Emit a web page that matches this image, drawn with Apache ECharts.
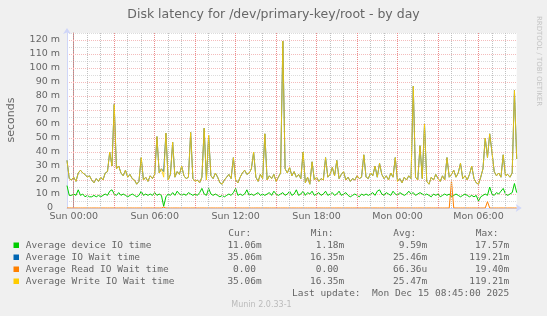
<!DOCTYPE html>
<html><head><meta charset="utf-8">
<script src="https://cdn.jsdelivr.net/npm/echarts@6/dist/echarts.min.js"></script>
<style>html,body{margin:0;padding:0;background:#F0F0F0;}#c{width:547px;height:316px;}</style>
</head><body><div id="c"></div>
<script>
// ---- axis / time definitions (hours relative to Sun 00:00) ----
const startHour = -0.5;          // Sat 23:30
const stepHour = 1 / 6;          // 10 minute samples
const endHour = 32 + 50 / 60;    // Mon 08:50
const xTickValues = [0, 6, 12, 18, 24, 30];
const xTickLabels = ['Sun 00:00', 'Sun 06:00', 'Sun 12:00', 'Sun 18:00', 'Mon 00:00', 'Mon 06:00'];
const majorGridHours = [0, 3, 6, 9, 12, 15, 18, 21, 24, 27, 30];
const minorGridHours = [1, 2, 4, 5, 7, 8, 10, 11, 13, 14, 16, 17, 19, 20, 22, 23, 25, 26, 28, 29, 31, 32];
const yMax = 125;
const yLabelStep = 10;
const yMinorStep = 5;

// ---- series values (milliseconds) ----
const deviceIO = [16,9,9,10,9,13,9,10,8,9, 8,8,9,8,9,8,9,10,9,12, 13,10,9,11,9,10,9,8,9,10,
 9,8,9,12,9,10,9,10,9,11, 9,10,9,1.2,8,10,9,11,9,12, 10,9,10,9,11,10,9,10,9,11,
 14,10,9,14,10,9,10,9,8,9, 8,9,10,9,11,14,9,10,9,10, 13,9,10,9,10,11,9,10,9,10,
 11,9,12,10,9,10,11,9,10,12, 9,10,13,9,10,12,9,11,10,12, 9,10,11,9,10,12,9,10,11,9,
 10,12,9,10,11,9,8,9,10,9, 8,10,9,10,9,10,11,9,12,13, 10,9,11,10,9,12,10,9,11,10,
 9,10,12,10,11,9,10,11,10,9, 10,9,8,10,9,10,8,9,10,9, 10,8,9,10,9,8,9,10,9,8,
 9,8,9,5,8,9,10,9,15,10, 9,11,10,12,14,10,9,10,11,17.5, 11];
const ioWait = [34,21,20,22,19,25,27,25,24,22, 23,20,18,21,19,22,20,25,26,40, 30,74,28,30,25,23,27,22,24,21,
 20,17,19,36,20,22,19,23,21,24, 51,25,28,26,53.5,20,24,47,22,26, 24,30,23,21,22,54,21,19,20,18,
 22,57,20,52,23,21,25,22,18,17, 20,22,24,21,36,20,18,22,25,27, 24,25,28,40,22,19,24,21,53,20,
 23,21,24,19,22,25,119.2,28,25,29, 23,26,22,24,21,40,18,22,17,33, 20,22,19,21,20,36,22,24,29,23,
 34,21,24,26,20,22,19,21,20,23, 21,22,38,22,21,25,23,30,22,32, 24,21,23,20,25,22,36,19,21,18,
 22,20,23,21,87,22,20,44.5,21,60, 19,17,22,20,24,21,19,23,20,36, 22,24,27,22,25,32,21,23,20,24,
 30,21,18,17,22,28,50,36,53,40, 26,23,25,22,38,23,24,22,25,84, 35];
const readWait = [0,0,0,0,0,0,0,0,0,0, 0,0,0,0,0,0,0,0,0,0, 0,0,0,0,0,0,0,0,0,0,
 0,0,0,0,0,0,0,0,0,0, 0,0,0,0.6,0,0,0,0,0,0, 0,0,0,0,0,0,0,0,0,0,
 0,0,0,0,0,0,0,0,0,0, 0,0,0,0,0,0,0,0,0,0, 0,0,0,0,0,0,0,0,0,0,
 0,0,0,0,0,0,0,0,0,0, 0,0,0,0,0,0,0,0,0,0, 0,0,0,0,0,0,0,0,0,0,
 0,0,0,0,0,0,0,0,0,0, 0,0,0,0,0,0,0,0,0,0, 0,0,0,0,0,0,0,0,0,0,
 0,0,0,0,0,0,0,0,0,0, 0,0,0,0,0,0,0,0,0,0, 0,19.4,0,0,0,0,0,0,0,0,
 0,0,0,0,0,0,0,4.5,0,0, 0,0,0,0,0,0,0,0,0,0, 0];
const writeWait = [34,21,20,22,19,25,27,25,24,22, 23,20,18,21,19,22,20,25,26,40, 30,74,28,30,25,23,27,22,24,21,
 20,17,19,36,20,22,19,23,21,24, 51,25,28,22,53.5,20,24,47,22,26, 24,30,23,21,22,54,21,19,20,18,
 22,57,20,52,23,21,25,22,18,17, 20,22,24,21,36,20,18,22,25,27, 24,25,28,40,22,19,24,21,53,20,
 23,21,24,19,22,25,119.2,28,25,29, 23,26,22,24,21,40,18,22,17,33, 20,22,19,21,20,36,22,24,29,23,
 34,21,24,26,20,22,19,21,20,23, 21,22,38,22,21,25,23,30,22,32, 24,21,23,20,25,22,36,19,21,18,
 22,20,23,21,87,22,20,44.5,21,60, 19,17,22,20,24,21,19,23,20,36, 22,24,27,22,25,32,21,23,20,24,
 30,21,18,17,22,28,50,36,53,40, 26,23,25,22,38,23,24,22,25,84, 35];

// ---- legend texts ----
const seriesNames = ['Average device IO time', 'Average IO Wait time', 'Average Read IO Wait time', 'Average Write IO Wait time'];
const seriesColors = ['#00CC00', '#0066B3', '#FF8000', '#FFCC00'];
const curTexts = ['11.06m', '35.06m', '0.00 ', '35.06m'];
const minTexts = ['1.18m', '16.35m', '0.00 ', '16.35m'];
const avgTexts = ['9.59m', '25.46m', '66.36u', '25.47m'];
const maxTexts = ['17.57m', '119.21m', '19.40m', '119.21m'];
const columnHeaders = ['Cur:', 'Min:', 'Avg:', 'Max:'];
const titleText = 'Disk latency for /dev/primary-key/root - by day';
const yAxisTitle = 'seconds';
const lastUpdate = 'Last update:  Mon Dec 15 08:45:00 2025';
const versionText = 'Munin 2.0.33-1';
const sideText = 'RRDTOOL / TOBI OETIKER';

const toPairs = vals => vals.map((v, i) => [startHour + i * stepHour, v]);

const SANS = '"DejaVu Sans", Verdana, sans-serif';
const MONO = '"DejaVu Sans Mono", monospace';
const FONT_COLOR = '#666666';
const AXIS_COLOR = '#CFD6F8';
const H_MAJOR = '#F4BCBC';
const H_MINOR = '#DCDCDC';
const V_MAJOR = '#EC8A8A';
const V_MINOR = '#C0C0C0';

const chart = echarts.init(document.getElementById('c'), null, {renderer: 'canvas'});

const graphics = [];
const rowY = [245.7, 257.7, 269.7, 281.7];
const colRight = [261.7, 344.3, 427.3, 509.3];
const headerLeft = [228.3, 310.7, 393.3, 475.7];
const colTexts = [curTexts, minTexts, avgTexts, maxTexts];
columnHeaders.forEach((h, k) => graphics.push({type: 'text', x: headerLeft[k], y: 234, silent: true,
  style: {text: h, font: '9.5px ' + MONO, fill: FONT_COLOR, align: 'left', verticalAlign: 'middle'}}));
seriesNames.forEach((n, r) => {
  graphics.push({type: 'rect', silent: true, shape: {x: 13.5, y: rowY[r] - 3.2, width: 5.5, height: 5.5},
    style: {fill: seriesColors[r]}});
  graphics.push({type: 'text', x: 25.7, y: rowY[r], silent: true,
    style: {text: n, font: '9.5px ' + MONO, fill: FONT_COLOR, align: 'left', verticalAlign: 'middle'}});
  colTexts.forEach((col, k) => graphics.push({type: 'text', x: colRight[k], y: rowY[r], silent: true,
    style: {text: col[r], font: '9.5px ' + MONO, fill: FONT_COLOR, align: 'right', verticalAlign: 'middle'}}));
});
graphics.push({type: 'text', x: 509.3, y: 293.3, silent: true,
  style: {text: lastUpdate, font: '9.5px ' + MONO, fill: FONT_COLOR, align: 'right', verticalAlign: 'middle'}});
graphics.push({type: 'text', x: 261.5, y: 305, silent: true,
  style: {text: versionText, font: '8px ' + SANS, fill: '#BBBBBB', align: 'center', verticalAlign: 'middle'}});
graphics.push({type: 'text', x: 539, y: 61, rotation: -Math.PI / 2, silent: true,
  style: {text: sideText, font: '7px ' + SANS, fill: '#C4C4C4', align: 'center', verticalAlign: 'middle'}});
graphics.push({type: 'text', x: 11.5, y: 120, rotation: Math.PI / 2, silent: true,
  style: {text: yAxisTitle, font: '11px ' + SANS, fill: FONT_COLOR, align: 'center', verticalAlign: 'middle'}});

const lineSeries = (name, vals, color, z) => ({
  name, type: 'line', data: toPairs(vals), xAxisIndex: 0, yAxisIndex: 0,
  showSymbol: false, symbol: 'none', silent: true, z,
  lineStyle: {color, width: 1}, itemStyle: {color}, emphasis: {disabled: true}
});

const gridLine = (color) => ({color, type: [1, 1], width: 1});
const gridSeries = {
  name: 'grid', type: 'line', data: [], xAxisIndex: 0, yAxisIndex: 0, z: 1, silent: true,
  markLine: {
    silent: true, symbol: ['none', 'none'], animation: false,
    label: {show: false}, emphasis: {disabled: true},
    data: [].concat(
      minorGridHours.map(h => ({xAxis: h, lineStyle: gridLine(V_MINOR)})),
      majorGridHours.map(h => ({xAxis: h, lineStyle: gridLine(V_MAJOR)}))
    )
  }
};

chart.setOption({
  animation: false,
  backgroundColor: '#F0F0F0',
  title: {text: titleText, left: 'center', top: 3,
    textStyle: {fontFamily: SANS, fontSize: 12.5, fontWeight: 'normal', color: FONT_COLOR}},
  grid: {left: 67, right: 30.3, top: 33, bottom: 108, containLabel: false, outerBoundsMode: 'none',
    backgroundColor: '#FFFFFF', show: true, borderWidth: 0},
  xAxis: [
    {type: 'value', min: startHour, max: endHour, position: 'bottom', z: 3,
      axisLine: {show: true, onZero: false, lineStyle: {color: AXIS_COLOR, width: 1},
        symbol: ['none', 'arrow'], symbolSize: [6, 6], symbolOffset: [0, 5]},
      axisTick: {show: false, customValues: xTickValues},
      axisLabel: {customValues: xTickValues, margin: 4, color: FONT_COLOR, fontFamily: SANS, fontSize: 9.5,
        formatter: v => xTickLabels[xTickValues.indexOf(v)]},
      splitLine: {show: false}}
  ],
  yAxis: [
    {type: 'value', min: 0, max: yMax, interval: yLabelStep, z: 2,
      axisLine: {show: true, onZero: false, lineStyle: {color: AXIS_COLOR, width: 1},
        symbol: ['none', 'arrow'], symbolSize: [6, 6], symbolOffset: [0, 5]},
      axisTick: {show: false},
      axisLabel: {showMaxLabel: false, margin: 7, color: FONT_COLOR, fontFamily: SANS, fontSize: 9.5,
        formatter: v => v === 0 ? '{z|0}' : v + ' m',
        rich: {z: {fontFamily: SANS, fontSize: 9.5, color: FONT_COLOR, padding: [0, 7, 0, 0]}}},
      splitLine: {show: true, showMinLine: false, showMaxLine: false, lineStyle: gridLine(H_MAJOR)}},
    {type: 'value', min: 0, max: yMax, interval: yMinorStep, position: 'right', z: 1,
      axisLine: {show: true, lineStyle: {color: '#9A9A9A', width: 1}},
      axisLabel: {show: false}, axisTick: {show: false},
      splitLine: {show: true, showMinLine: false, lineStyle: gridLine(H_MINOR)}}
  ],
  series: [
    gridSeries,
    lineSeries(seriesNames[0], deviceIO, seriesColors[0], 2),
    lineSeries(seriesNames[1], ioWait, seriesColors[1], 3),
    lineSeries(seriesNames[2], readWait, seriesColors[2], 4),
    Object.assign(lineSeries(seriesNames[3], writeWait, seriesColors[3], 5), {lineStyle: {color: seriesColors[3], width: 1, opacity: 0.85}})
  ],
  graphic: graphics
});
</script></body></html>
